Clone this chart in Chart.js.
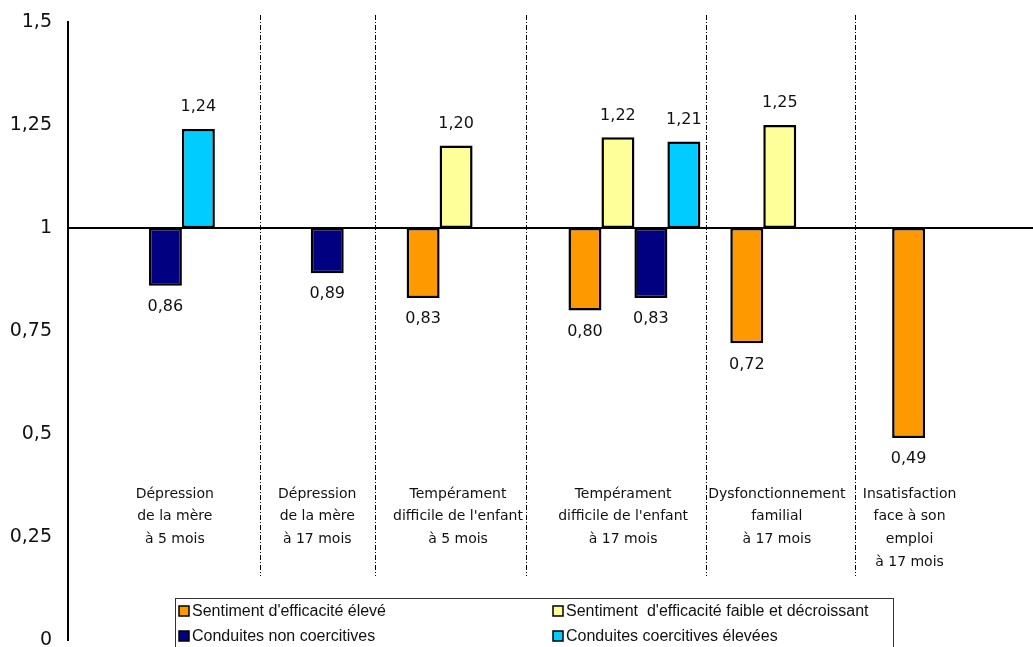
<!DOCTYPE html>
<html lang="fr">
<head>
<meta charset="utf-8">
<title>Rapports de cotes</title>
<script src="https://cdn.jsdelivr.net/npm/chart.js@4/dist/chart.umd.min.js"></script>
<style>
  html, body { margin: 0; padding: 0; background: #fff; overflow: hidden; }
  #wrap { width: 1045px; height: 647px; overflow: hidden; }
</style>
</head>
<body>
<div id="wrap"><canvas id="chart" width="1045" height="647"></canvas></div>
<script>
// Facteurs (une catégorie par groupe de barres)
const categories = [
  ['Dépression', 'de la mère', 'à 5 mois'],
  ['Dépression', 'de la mère', 'à 17 mois'],
  ['Tempérament', "difficile de l'enfant", 'à 5 mois'],
  ['Tempérament', "difficile de l'enfant", 'à 17 mois'],
  ['Dysfonctionnement', 'familial', 'à 17 mois'],
  ['Insatisfaction', 'face à son', 'emploi', 'à 17 mois']
];

// Rapports de cotes par trajectoire (null = non significatif)
const efficaciteEleve    = [null, null, 0.83, 0.80, 0.72, 0.49];
const efficaciteFaible   = [null, null, 1.20, 1.22, 1.25, null];
const nonCoercitives     = [0.86, 0.89, null, 0.83, null, null];
const coercitivesElevees = [1.24, null, null, 1.21, null, null];

const seriesNames = [
  "Sentiment d'efficacité élevé",
  "Sentiment  d'efficacité faible et décroissant",
  'Conduites non coercitives',
  'Conduites coercitives élevées'
];

const yTicks = [0, 0.25, 0.5, 0.75, 1, 1.25, 1.5];
const BASELINE = 1;

const colors = ['#FF9900', '#FFFF99', '#000080', '#00CCFF'];
const FONT = '"DejaVu Sans", sans-serif';

const fmt = v => String(v).replace('.', ',');
const fmt2 = v => v.toFixed(2).replace('.', ',');

function floating(arr) {
  return arr.map(v => (v === null ? null : [BASELINE, v]));
}

const seriesValues = [efficaciteEleve, efficaciteFaible, nonCoercitives, coercitivesElevees];

const datasets = seriesValues.map((vals, i) => ({
  label: seriesNames[i],
  data: floating(vals),
  backgroundColor: colors[i],
  borderColor: '#000',
  borderWidth: 2.5,
  borderSkipped: false,
  categoryPercentage: 0.815,
  barPercentage: 1
}));

// Séparateurs pointillés et étiquettes de facteurs, en unités de catégorie
const separatorPos = [0.685, 1.40, 2.33, 3.44, 4.36];
const labelPos = [0.16, 1.04, 1.91, 2.93, 3.88, 4.70];

const decorPlugin = {
  id: 'decor',
  beforeDatasetsDraw(chart) {
    const { ctx, scales: { x, y } } = chart;
    const step = x.getPixelForValue(1) - x.getPixelForValue(0);
    const x0 = x.getPixelForValue(0);
    ctx.save();
    // graduations de l'axe vertical
    ctx.fillStyle = '#111';
    ctx.font = '19px ' + FONT;
    ctx.textAlign = 'right';
    ctx.textBaseline = 'middle';
    yTicks.forEach(v => ctx.fillText(fmt(v), 52, y.getPixelForValue(v)));
    // séparateurs
    ctx.strokeStyle = '#000';
    ctx.lineWidth = 1;
    ctx.setLineDash([5, 2, 1, 2]);
    separatorPos.forEach(p => {
      const px = Math.round(x0 + p * step) + 0.5;
      ctx.beginPath();
      ctx.moveTo(px, 15);
      ctx.lineTo(px, 576);
      ctx.stroke();
    });
    ctx.setLineDash([]);
    // étiquettes des facteurs
    ctx.fillStyle = '#111';
    ctx.font = '14px ' + FONT;
    ctx.textAlign = 'center';
    categories.forEach((lines, i) => {
      const cx = x0 + labelPos[i] * step;
      lines.forEach((t, j) => ctx.fillText(t, cx, 494 + j * 22.8));
    });
    ctx.restore();
  },
  afterDatasetsDraw(chart) {
    const { ctx, chartArea, scales: { y } } = chart;
    ctx.save();
    // ligne de référence à 1
    const yb = Math.round(y.getPixelForValue(BASELINE));
    ctx.fillStyle = '#000';
    ctx.fillRect(chartArea.left, yb - 1, chart.width - chartArea.left, 2);
    // valeurs
    ctx.font = '16px ' + FONT;
    ctx.fillStyle = '#111';
    ctx.textAlign = 'center';
    ctx.textBaseline = 'middle';
    chart.data.datasets.forEach((ds, di) => {
      const meta = chart.getDatasetMeta(di);
      meta.data.forEach((bar, i) => {
        const v = seriesValues[di][i];
        if (v === null) return;
        const end = y.getPixelForValue(v);
        const ty = v >= BASELINE ? end - 22 : end + 21;
        ctx.fillText(fmt2(v), bar.x, ty);
      });
    });
    // légende
    const lx = 175.5, ly = 598.5, lw = 718, lh = 60;
    ctx.fillStyle = '#fff';
    ctx.fillRect(lx, ly, lw, lh);
    ctx.strokeStyle = '#333';
    ctx.lineWidth = 1;
    ctx.strokeRect(lx, ly, lw, lh);
    ctx.font = '16px "Liberation Sans", Arial, sans-serif';
    ctx.textAlign = 'left';
    const cols = [179, 553];
    const rows = [611, 636];
    seriesNames.forEach((name, i) => {
      const cx = cols[i % 2], cy = rows[Math.floor(i / 2)];
      ctx.fillStyle = colors[i];
      ctx.fillRect(cx, cy - 5, 10, 10);
      ctx.strokeStyle = '#000';
      ctx.lineWidth = 1.5;
      ctx.strokeRect(cx, cy - 5, 10, 10);
      ctx.fillStyle = '#111';
      ctx.fillText(name, cx + 13, cy + 1);
    });
    ctx.restore();
  }
};

new Chart(document.getElementById('chart'), {
  type: 'bar',
  data: { labels: categories.map(c => c.join(' ')), datasets },
  options: {
    responsive: false,
    devicePixelRatio: 1,
    animation: false,
    layout: { padding: { left: 0, right: 6, top: 22, bottom: 7 } },
    plugins: { legend: { display: false }, tooltip: { enabled: false } },
    scales: {
      x: { display: false, grid: { display: false } },
      y: {
        min: 0,
        max: 1.5,
        afterFit(scale) { scale.width = 68; },
        afterBuildTicks(scale) { scale.ticks = yTicks.map(v => ({ value: v })); },
        grid: { display: false },
        border: { display: true, color: '#000', width: 2 },
        ticks: { display: false }
      }
    }
  },
  plugins: [decorPlugin]
});
</script>
</body>
</html>
